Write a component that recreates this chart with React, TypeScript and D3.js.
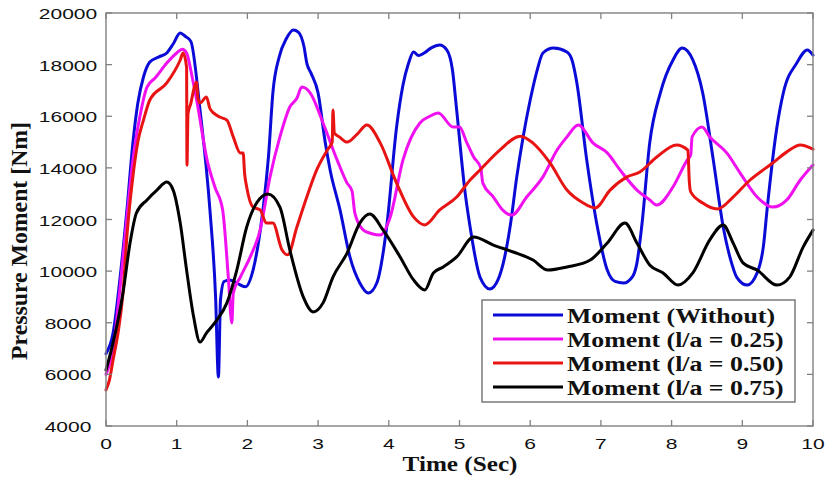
import React from "react";
import * as d3 from "d3";

const xTicks = [0, 1, 2, 3, 4, 5, 6, 7, 8, 9, 10];
const yTicks = [4000, 6000, 8000, 10000, 12000, 14000, 16000, 18000, 20000];

const withoutT = [0, 0.1, 0.2, 0.3, 0.38, 0.45, 0.53, 0.62, 0.75, 0.86, 0.95, 1.05, 1.12, 1.2, 1.33, 1.47, 1.55, 1.59, 1.62, 1.67, 1.75, 1.85, 1.97, 2.08, 2.15, 2.22, 2.3, 2.36, 2.45, 2.55, 2.65, 2.72, 2.8, 2.84, 2.9, 3.0, 3.1, 3.17, 3.31, 3.45, 3.59, 3.71, 3.83, 3.97, 4.11, 4.2, 4.28, 4.35, 4.42, 4.5, 4.6, 4.72, 4.82, 4.9, 4.96, 5.08, 5.15, 5.29, 5.43, 5.55, 5.62, 5.72, 5.81, 5.9, 6.0, 6.1, 6.18, 6.33, 6.52, 6.6, 6.66, 6.8, 6.95, 7.09, 7.2, 7.32, 7.45, 7.51, 7.58, 7.69, 7.84, 8.02, 8.15, 8.3, 8.44, 8.59, 8.73, 8.85, 8.92, 9.07, 9.21, 9.3, 9.35, 9.49, 9.58, 9.77, 9.92, 10];
const withoutV = [6800, 7600, 9770, 12500, 14960, 16500, 17520, 18100, 18300, 18450, 18800, 19225, 19100, 18900, 16240, 12370, 9000, 5900, 8900, 9600, 9660, 9540, 9390, 10040, 11000, 12370, 14500, 16900, 18300, 19000, 19340, 19260, 18700, 18060, 17670, 16900, 15000, 13920, 12370, 10550, 9540, 9150, 9540, 11710, 15580, 17200, 18060, 18490, 18350, 18450, 18650, 18760, 18570, 17800, 16240, 13030, 11710, 9770, 9310, 9700, 10320, 11800, 13650, 15200, 16630, 17800, 18450, 18640, 18490, 18100, 17290, 14300, 11710, 10040, 9600, 9540, 9800, 10320, 11800, 14960, 16900, 18180, 18640, 18180, 16900, 14300, 11710, 10300, 9770, 9460, 9930, 11000, 12370, 15580, 16900, 18060, 18570, 18370];

const la25T = [0, 0.1, 0.2, 0.3, 0.38, 0.48, 0.58, 0.7, 0.86, 1.0, 1.08, 1.14, 1.22, 1.29, 1.43, 1.54, 1.65, 1.73, 1.78, 1.8, 1.9, 2.04, 2.18, 2.32, 2.46, 2.6, 2.7, 2.77, 2.89, 3.07, 3.27, 3.41, 3.48, 3.52, 3.64, 3.76, 3.88, 4.02, 4.2, 4.44, 4.58, 4.7, 4.91, 5.0, 5.1, 5.2, 5.3, 5.33, 5.48, 5.6, 5.74, 5.95, 6.18, 6.38, 6.52, 6.68, 6.89, 7.09, 7.27, 7.51, 7.69, 7.79, 8.02, 8.22, 8.27, 8.29, 8.43, 8.54, 8.78, 8.97, 9.21, 9.43, 9.63, 9.82, 10];
const la25V = [6000, 7000, 9390, 12200, 14300, 16000, 17130, 17500, 18060, 18450, 18600, 18450, 17500, 16510, 14300, 13260, 12370, 9770, 7990, 9150, 9770, 10550, 11590, 13650, 15200, 16360, 16700, 17130, 16900, 15740, 14300, 13410, 13100, 12250, 11590, 11450, 11400, 12100, 14300, 15740, 16000, 16130, 15580, 15580, 15000, 14420, 14000, 13410, 12870, 12400, 12170, 12870, 13650, 14690, 15200, 15660, 14960, 14580, 13920, 13140, 12760, 12560, 13260, 14300, 14500, 15200, 15580, 15200, 14580, 13800, 12870, 12480, 12760, 13530, 14110];

const la50T = [0, 0.05, 0.1, 0.17, 0.24, 0.3, 0.38, 0.45, 0.53, 0.62, 0.86, 1.05, 1.09, 1.14, 1.145, 1.16, 1.2, 1.24, 1.28, 1.3, 1.33, 1.42, 1.47, 1.52, 1.61, 1.71, 1.8, 1.9, 1.94, 1.96, 1.99, 2.08, 2.18, 2.27, 2.36, 2.49, 2.57, 2.7, 2.84, 2.98, 3.13, 3.2, 3.21, 3.23, 3.3, 3.41, 3.55, 3.69, 3.88, 4.11, 4.35, 4.51, 4.72, 4.96, 5.15, 5.29, 5.57, 5.86, 6.04, 6.28, 6.52, 6.75, 6.92, 7.13, 7.37, 7.55, 7.79, 8.07, 8.23, 8.25, 8.27, 8.44, 8.65, 8.87, 9.11, 9.43, 9.63, 9.82, 10];
const la50V = [5400, 5800, 6560, 7600, 9150, 11500, 13650, 15000, 15850, 16630, 17290, 18180, 18450, 17900, 14100, 16100, 16500, 17020, 17330, 16700, 16510, 16750, 16300, 16130, 15970, 15850, 15200, 14580, 14580, 13800, 13260, 12480, 12370, 11860, 11860, 10820, 10630, 11710, 12870, 13920, 14690, 15000, 16240, 15350, 15200, 15000, 15300, 15660, 14960, 13410, 12100, 11790, 12370, 12870, 13530, 13920, 14690, 15230, 14960, 14190, 13140, 12640, 12450, 13140, 13650, 13840, 14420, 14890, 14690, 13500, 13070, 12640, 12410, 12870, 13530, 14190, 14620, 14890, 14730];

const la75T = [0, 0.1, 0.24, 0.34, 0.43, 0.58, 0.72, 0.86, 0.95, 1.05, 1.14, 1.24, 1.33, 1.42, 1.57, 1.71, 1.85, 1.99, 2.13, 2.29, 2.46, 2.6, 2.79, 2.93, 3.07, 3.21, 3.41, 3.59, 3.73, 3.92, 4.16, 4.35, 4.51, 4.63, 4.77, 4.96, 5.2, 5.48, 5.76, 6.04, 6.25, 6.52, 6.85, 7.09, 7.34, 7.51, 7.69, 7.88, 8.09, 8.3, 8.54, 8.73, 8.87, 9.01, 9.21, 9.49, 9.67, 9.86, 10];
const la75V = [6170, 7220, 9150, 11090, 12250, 12760, 13140, 13450, 13140, 11860, 10040, 8220, 7250, 7600, 8110, 8770, 10040, 11710, 12640, 12990, 12480, 10820, 9000, 8420, 8770, 9770, 10700, 11860, 12210, 11590, 10550, 9660, 9270, 9930, 10160, 10550, 11320, 11010, 10740, 10430, 10040, 10160, 10430, 11090, 11860, 11090, 10240, 9930, 9460, 9930, 11210, 11790, 11090, 10320, 10040, 9460, 9770, 10930, 11590];

const seriesNames = ["Moment (Without)", "Moment (l/a = 0.25)", "Moment (l/a = 0.50)", "Moment (l/a = 0.75)"];
const seriesColors = ["#0b0bd8", "#f010f0", "#e81414", "#000000"];

const W = 825;
const H = 480;
const left = 106;
const right = 813;
const top = 13;
const bottom = 426;

export default function App() {
  const x = d3.scaleLinear().domain([0, 10]).range([left, right]);
  const y = d3.scaleLinear().domain([4000, 20000]).range([bottom, top]);
  const series = [
    { t: withoutT, v: withoutV },
    { t: la25T, v: la25V },
    { t: la50T, v: la50V },
    { t: la75T, v: la75V },
  ];
  const line = d3
    .line<[number, number]>()
    .x((d) => x(d[0]))
    .y((d) => y(d[1]))
    .curve(d3.curveMonotoneX);
  const axisColor = "#808080";
  const tickLen = 6;
  const sx = 1.5;

  const legX0 = 482;
  const legY0 = 300;
  const legW = 313;
  const legH = 102;

  return (
    <svg
      width={W}
      height={H}
      style={{ position: "absolute", left: 0, top: 0, display: "block", background: "#fff" }}
    >
      <rect x={0} y={0} width={W} height={H} fill="#fff" />
      {series.map((s, i) => (
        <path
          key={i}
          d={line(s.t.map((t, j) => [t, s.v[j]] as [number, number])) || ""}
          fill="none"
          stroke={seriesColors[i]}
          strokeWidth={3}
          strokeLinejoin="round"
          strokeLinecap="round"
        />
      ))}
      <rect
        x={left}
        y={top}
        width={right - left}
        height={bottom - top}
        fill="none"
        stroke={axisColor}
        strokeWidth={1.4}
      />
      {xTicks.map((t) => (
        <g key={"x" + t}>
          <line x1={x(t)} x2={x(t)} y1={bottom} y2={bottom - tickLen} stroke={axisColor} strokeWidth={1.3} />
          <line x1={x(t)} x2={x(t)} y1={top} y2={top + tickLen} stroke={axisColor} strokeWidth={1.3} />
          <text
            transform={`translate(${x(t)},449) scale(${sx},1)`}
            textAnchor="middle"
            fontFamily="Liberation Sans, Arial, sans-serif"
            fontSize={14}
            fill="#111"
          >
            {t}
          </text>
        </g>
      ))}
      {yTicks.map((v) => (
        <g key={"y" + v}>
          <line x1={left} x2={left + tickLen} y1={y(v)} y2={y(v)} stroke={axisColor} strokeWidth={1.3} />
          <line x1={right} x2={right - tickLen} y1={y(v)} y2={y(v)} stroke={axisColor} strokeWidth={1.3} />
          <text
            transform={`translate(68,${y(v) + 6}) scale(${sx},1)`}
            textAnchor="middle"
            fontFamily="Liberation Sans, Arial, sans-serif"
            fontSize={14}
            fill="#111"
          >
            {v}
          </text>
        </g>
      ))}
      <text
        transform={`translate(460,471) scale(1.26,1)`}
        textAnchor="middle"
        fontFamily="Liberation Serif, Times New Roman, serif"
        fontWeight="bold"
        fontSize={20}
        fill="#111"
      >
        Time (Sec)
      </text>
      <text
        transform={`translate(27,241) rotate(-90) scale(1,1.2)`}
        textAnchor="middle"
        fontFamily="Liberation Serif, Times New Roman, serif"
        fontWeight="bold"
        fontSize={19}
        textLength={238}
        lengthAdjust="spacingAndGlyphs"
        fill="#111"
      >
        Pressure Moment [Nm]
      </text>
      <rect x={legX0} y={legY0} width={legW} height={legH} fill="#fff" stroke="#707070" strokeWidth={1.4} />
      {seriesNames.map((name, i) => {
        const ly = 315 + i * 24;
        return (
          <g key={name}>
            <line x1={493} x2={563} y1={ly} y2={ly} stroke={seriesColors[i]} strokeWidth={3} />
            <text
              transform={`translate(567,${ly + 8}) scale(1.29,1)`}
              fontFamily="Liberation Serif, Times New Roman, serif"
              fontWeight="bold"
              fontSize={20}
              fill="#111"
            >
              {name}
            </text>
          </g>
        );
      })}
    </svg>
  );
}
